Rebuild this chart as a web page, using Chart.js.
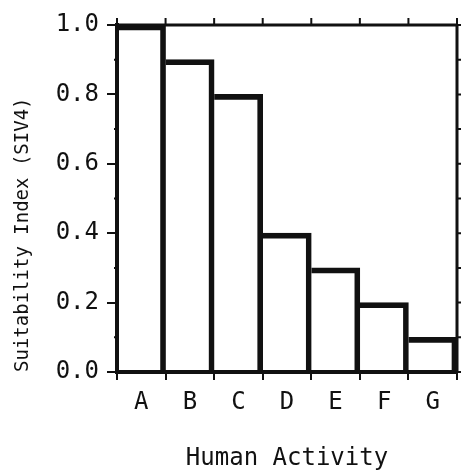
<!DOCTYPE html>
<html>
<head>
<meta charset="utf-8">
<script src="https://cdn.jsdelivr.net/npm/chart.js@4"></script>
<style>
  html, body { margin: 0; padding: 0; background: #fff; }
  #wrap { width: 463px; height: 473px; }
</style>
</head>
<body>
<div id="wrap"><canvas id="chart" width="463" height="473"></canvas></div>
<script>
const categories = ['A', 'B', 'C', 'D', 'E', 'F', 'G'];
const siValues = [1.0, 0.9, 0.8, 0.4, 0.3, 0.2, 0.1];
const yTicks = [0.0, 0.2, 0.4, 0.6, 0.8, 1.0];
const minorTicks = [0.1, 0.3, 0.5, 0.7, 0.9];

const FONT = 'DejaVu Sans Mono';
const INK = '#111';

// draws the top and right frame lines plus the small tick marks on them
const framePlugin = {
  id: 'frame',
  afterDraw(chart) {
    const { ctx, chartArea: a, scales } = chart;
    const x = scales.x, y = scales.y;
    ctx.save();
    ctx.strokeStyle = INK;
    ctx.lineWidth = 3;
    ctx.beginPath();
    ctx.moveTo(a.left, a.top);
    ctx.lineTo(a.right, a.top);
    ctx.moveTo(a.right, a.top);
    ctx.lineTo(a.right, a.bottom);
    ctx.stroke();

    // top ticks at category boundaries, pointing up
    ctx.lineWidth = 2;
    ctx.beginPath();
    for (let i = 0; i <= categories.length; i++) {
      const px = i < categories.length
        ? x.getPixelForValue(i) - (x.getPixelForValue(1) - x.getPixelForValue(0)) / 2
        : a.right;
      ctx.moveTo(px, a.top);
      ctx.lineTo(px, a.top - 7);
    }
    // right ticks at every tenth
    yTicks.concat(minorTicks).forEach(v => {
      const py = y.getPixelForValue(v);
      ctx.moveTo(a.right, py);
      ctx.lineTo(a.right + 4, py);
    });
    // small minor ticks on the left axis
    minorTicks.forEach(v => {
      const py = y.getPixelForValue(v);
      ctx.moveTo(a.left, py);
      ctx.lineTo(a.left - 3, py);
    });
    ctx.stroke();
    ctx.restore();
  }
};

new Chart(document.getElementById('chart').getContext('2d'), {
  type: 'bar',
  data: {
    labels: categories,
    datasets: [{
      data: siValues,
      backgroundColor: 'rgba(255,255,255,0)',
      borderColor: INK,
      borderWidth: { top: 5, right: 5, left: 0, bottom: 0 },
      borderSkipped: false,
      barPercentage: 1,
      categoryPercentage: 1
    }]
  },
  options: {
    responsive: false,
    animation: false,
    events: [],
    layout: { padding: { top: 25, right: 6, left: 0, bottom: 0 } },
    plugins: { legend: { display: false }, tooltip: { enabled: false } },
    scales: {
      x: {
        afterFit(scale) { scale.height = 101; },
        grid: { display: true, drawOnChartArea: false, offset: true, tickLength: 8, color: INK, lineWidth: 2 },
        border: { display: true, color: INK, width: 4 },
        ticks: { color: INK, font: { family: FONT, size: 24 }, padding: 8 },
        title: { display: true, text: 'Human Activity', color: INK, font: { family: FONT, size: 24 }, padding: { top: 0, bottom: 0 } }
      },
      y: {
        min: 0,
        max: 1,
        afterFit(scale) { scale.width = 117; },
        afterBuildTicks(scale) { scale.ticks = yTicks.map(v => ({ value: v })); },
        grid: { display: true, drawOnChartArea: false, tickLength: 10, color: INK, lineWidth: 2 },
        border: { display: true, color: INK, width: 4 },
        ticks: { color: INK, font: { family: FONT, size: 24 }, padding: 8, callback: v => v.toFixed(1) },
        title: { display: true, text: 'Suitability Index (SIV4)', align: 'start', color: INK, font: { family: FONT, size: 19 }, padding: { top: 12, bottom: 0 } }
      }
    }
  },
  plugins: [framePlugin]
});
</script>
</body>
</html>
